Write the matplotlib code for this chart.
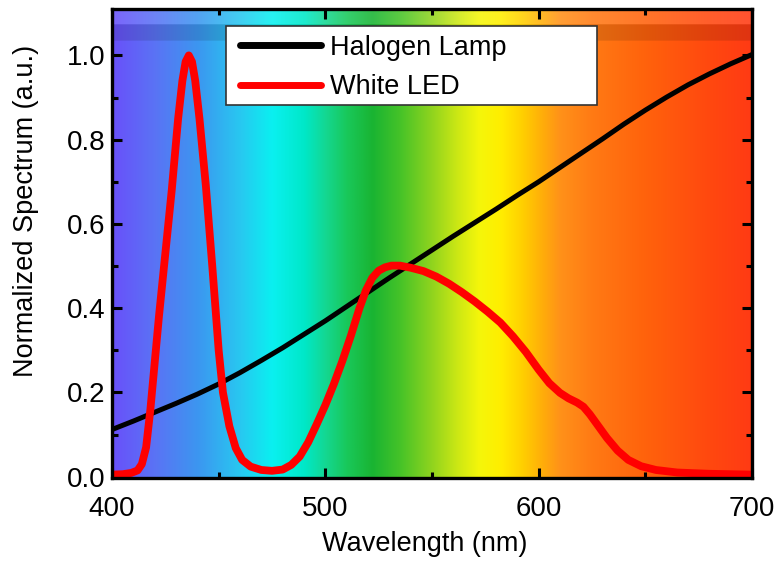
import matplotlib.pyplot as plt
import numpy as np
from matplotlib.patches import Rectangle

plt.rcParams['font.family'] = ['Liberation Sans', 'DejaVu Sans']

# Halogen lamp spectrum (normalized)
halogen_wl = [400, 410, 420, 430, 440, 450, 460, 470, 480, 490, 500, 510, 520, 530,
              540, 550, 560, 570, 580, 590, 600, 610, 620, 630, 640, 650, 660, 670,
              680, 690, 700]
halogen_int = [0.112, 0.132, 0.153, 0.174, 0.196, 0.220, 0.247, 0.276, 0.306, 0.338,
               0.370, 0.404, 0.438, 0.472, 0.505, 0.538, 0.571, 0.603, 0.635, 0.668,
               0.700, 0.734, 0.768, 0.802, 0.837, 0.870, 0.901, 0.930, 0.956, 0.980,
               1.002]

# White LED spectrum (normalized)
led_wl = [400, 405, 409, 412, 414, 416, 418, 420, 422, 425, 428, 431, 433, 434.5, 436,
          437.5, 439, 441, 444, 447, 450, 452, 455, 458, 461, 465, 470, 475, 480, 484,
          488, 492, 496, 500, 504, 508, 512, 516, 519, 522, 525, 528, 531, 535, 540,
          546, 552, 558, 564, 570, 576, 582, 588, 594, 600, 605, 610, 614, 618, 621,
          624, 628, 632, 637, 642, 648, 655, 665, 680, 700]
led_int = [0.005, 0.006, 0.009, 0.015, 0.030, 0.070, 0.160, 0.270, 0.380, 0.530, 0.680,
           0.850, 0.940, 0.985, 1.000, 0.985, 0.940, 0.850, 0.690, 0.500, 0.300, 0.200,
           0.120, 0.068, 0.040, 0.024, 0.016, 0.014, 0.017, 0.028, 0.048, 0.082, 0.125,
           0.170, 0.220, 0.275, 0.335, 0.400, 0.442, 0.472, 0.489, 0.497, 0.501, 0.501,
           0.496, 0.488, 0.475, 0.458, 0.438, 0.416, 0.392, 0.366, 0.333, 0.296, 0.254,
           0.222, 0.199, 0.186, 0.176, 0.166, 0.148, 0.120, 0.092, 0.062, 0.040, 0.025,
           0.016, 0.010, 0.007, 0.005]

# colour stops for the visible-spectrum backdrop
spec_wl = [400, 420, 440, 460, 475, 490, 500, 510, 522, 535, 550, 562, 572, 582,
           592, 602, 610, 625, 650, 680, 700]
spec_rgb = [(105, 80, 250), (90, 115, 245), (60, 150, 240), (40, 200, 240),
            (10, 240, 240), (0, 232, 200), (20, 215, 145), (25, 200, 90),
            (25, 180, 50), (70, 195, 40), (145, 212, 30), (205, 232, 20),
            (245, 246, 10), (255, 238, 0), (255, 208, 0), (255, 172, 10),
            (255, 145, 25), (255, 122, 20), (255, 98, 12), (255, 72, 15), (255, 58, 20)]

ylo, yhi = -0.003, 1.11

fig = plt.figure(figsize=(7.74, 5.64), dpi=100)
ax = fig.add_axes([0.1447, 0.1525, 0.8269, 0.8315])

# spectrum backdrop image
xs = np.linspace(400, 700, 600)
ys = np.linspace(ylo, yhi, 400)
rgb = np.array(spec_rgb, dtype=float) / 255.0
row = np.stack([np.interp(xs, spec_wl, rgb[:, k]) for k in range(3)], axis=-1)
img = np.repeat(row[None, :, :], len(ys), axis=0)
shade = np.ones(len(ys))
shade[(ys > 1.035) & (ys <= 1.075)] = 0.88
img = img * shade[:, None, None]
top = ys > 1.075
img[top] = img[top] * 0.88 + 0.12
ax.imshow(img, extent=[400, 700, ylo, yhi], origin='lower', aspect='auto',
          interpolation='bilinear', zorder=0)

ax.plot(halogen_wl, halogen_int, color='black', lw=3.6, label='Halogen Lamp',
        solid_capstyle='round', solid_joinstyle='round', zorder=3)
ax.plot(led_wl, led_int, color='#ff0000', lw=5.6, label='White LED',
        solid_capstyle='round', solid_joinstyle='round', zorder=4)

ax.set_xlim(400, 700)
ax.set_ylim(ylo, yhi)
ax.set_xticks([400, 500, 600, 700])
ax.set_xticks([450, 550, 650], minor=True)
ax.set_yticks([0.0, 0.2, 0.4, 0.6, 0.8, 1.0])
ax.set_yticks([0.1, 0.3, 0.5, 0.7, 0.9], minor=True)
ax.set_yticklabels(['0.0', '0.2', '0.4', '0.6', '0.8', '1.0'])

ax.tick_params(which='both', direction='in', top=True, right=True, width=2.2)
ax.tick_params(which='major', length=7)
ax.tick_params(which='minor', length=4.5)
ax.tick_params(axis='x', labelsize=20, pad=13)
ax.tick_params(axis='y', labelsize=20, pad=5)
for sp in ax.spines.values():
    sp.set_linewidth(2.4)
    sp.set_zorder(5)

ax.set_xlabel('Wavelength (nm)', fontsize=19.5)
ax.set_ylabel('Normalized Spectrum (a.u.)', fontsize=19.5)
ax.xaxis.set_label_coords(0.488, -0.113)
ax.yaxis.set_label_coords(-0.114, 0.57)

# legend box
ax.add_patch(Rectangle((0.178, 0.795), 0.58, 0.169, transform=ax.transAxes,
                       facecolor='white', edgecolor='#333333', lw=1.2, zorder=6))
leg = ax.legend(loc='upper left', bbox_to_anchor=(0.2, 0.945), fontsize=19.5,
                frameon=False, handlelength=3.0, handletextpad=0.33,
                labelspacing=0.5, borderpad=0.0, borderaxespad=0)
leg.set_zorder(7)
for h in leg.get_lines():
    h.set_linewidth(5)

fig.savefig('out.png', dpi=100)
